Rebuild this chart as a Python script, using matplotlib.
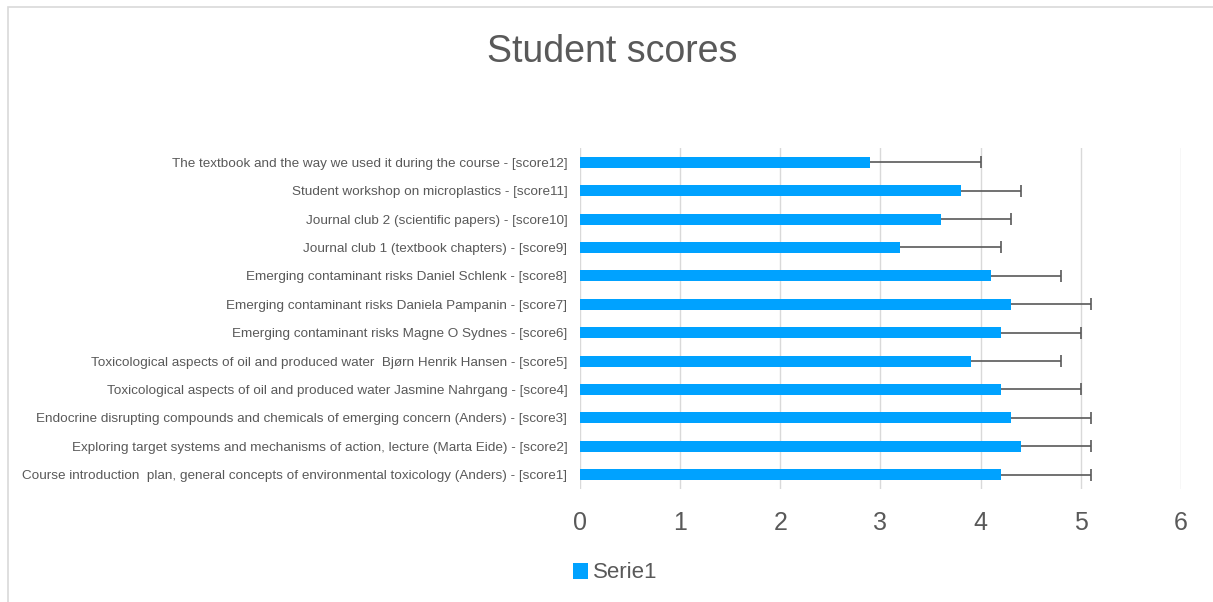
import matplotlib.pyplot as plt
from matplotlib.patches import Rectangle

plt.rcParams['font.family'] = ['Liberation Sans', 'DejaVu Sans']

# categories listed from bottom (score1) to top (score12)
labels = [
    'Course introduction  plan, general concepts of environmental toxicology (Anders) - [score1]',
    'Exploring target systems and mechanisms of action, lecture (Marta Eide) - [score2]',
    'Endocrine disrupting compounds and chemicals of emerging concern (Anders) - [score3]',
    'Toxicological aspects of oil and produced water Jasmine Nahrgang - [score4]',
    'Toxicological aspects of oil and produced water  Bjørn Henrik Hansen - [score5]',
    'Emerging contaminant risks Magne O Sydnes - [score6]',
    'Emerging contaminant risks Daniela Pampanin - [score7]',
    'Emerging contaminant risks Daniel Schlenk - [score8]',
    'Journal club 1 (textbook chapters) - [score9]',
    'Journal club 2 (scientific papers) - [score10]',
    'Student workshop on microplastics - [score11]',
    'The textbook and the way we used it during the course - [score12]',
]
scores = [4.2, 4.4, 4.3, 4.2, 3.9, 4.2, 4.3, 4.1, 3.2, 3.6, 3.8, 2.9]
errors = [0.9, 0.7, 0.8, 0.8, 0.9, 0.8, 0.8, 0.7, 1.0, 0.7, 0.6, 1.1]
xticks = [0, 1, 2, 3, 4, 5, 6]

fig = plt.figure(figsize=(12.13, 6.02), dpi=100)
ax = fig.add_axes([0.478, 0.188, 0.4956, 0.566])

pos = list(range(len(labels)))
bars = ax.barh(pos, scores, height=0.39, color='#00A2FF', label='Serie1', zorder=3,
               xerr=[[0] * len(errors), errors],
               error_kw=dict(ecolor='#595959', elinewidth=1.2, capsize=4.3,
                             capthick=1.2, zorder=4))
# only the plus-side cap is shown
caps = bars.errorbar.lines[1]
if len(caps) > 1:
    caps[0].set_visible(False)

ax.set_xlim(0, 6)
ax.set_ylim(-0.5, len(labels) - 0.5)
ax.set_xticks(xticks)
ax.set_yticks(pos)
ax.set_yticklabels(labels, fontsize=9.7, color='#595959')
ax.tick_params(axis='x', labelsize=18, colors='#595959', length=0, pad=16)
ax.tick_params(axis='y', length=0, pad=9)
ax.grid(axis='x', color='#d9d9d9', linewidth=1.0, zorder=0)
for s in ax.spines.values():
    s.set_visible(False)

fig.text(0.5045, 1 - 52 / 602, 'Student scores', ha='center', va='center',
         fontsize=27, color='#595959')

fig.legend(loc='center', bbox_to_anchor=(0.507, 1 - 573 / 602), frameon=False,
           fontsize=16, labelcolor='#595959', handlelength=0.7, handleheight=0.7,
           handletextpad=0.2)

# outer chart border
fig.patches.append(Rectangle((7.5 / 1213, -0.1), 1.2, 1 - 6.5 / 602 + 0.1,
                             transform=fig.transFigure, fill=False,
                             edgecolor='#d9d9d9', linewidth=1.2))

fig.savefig('out.png', dpi=100)
